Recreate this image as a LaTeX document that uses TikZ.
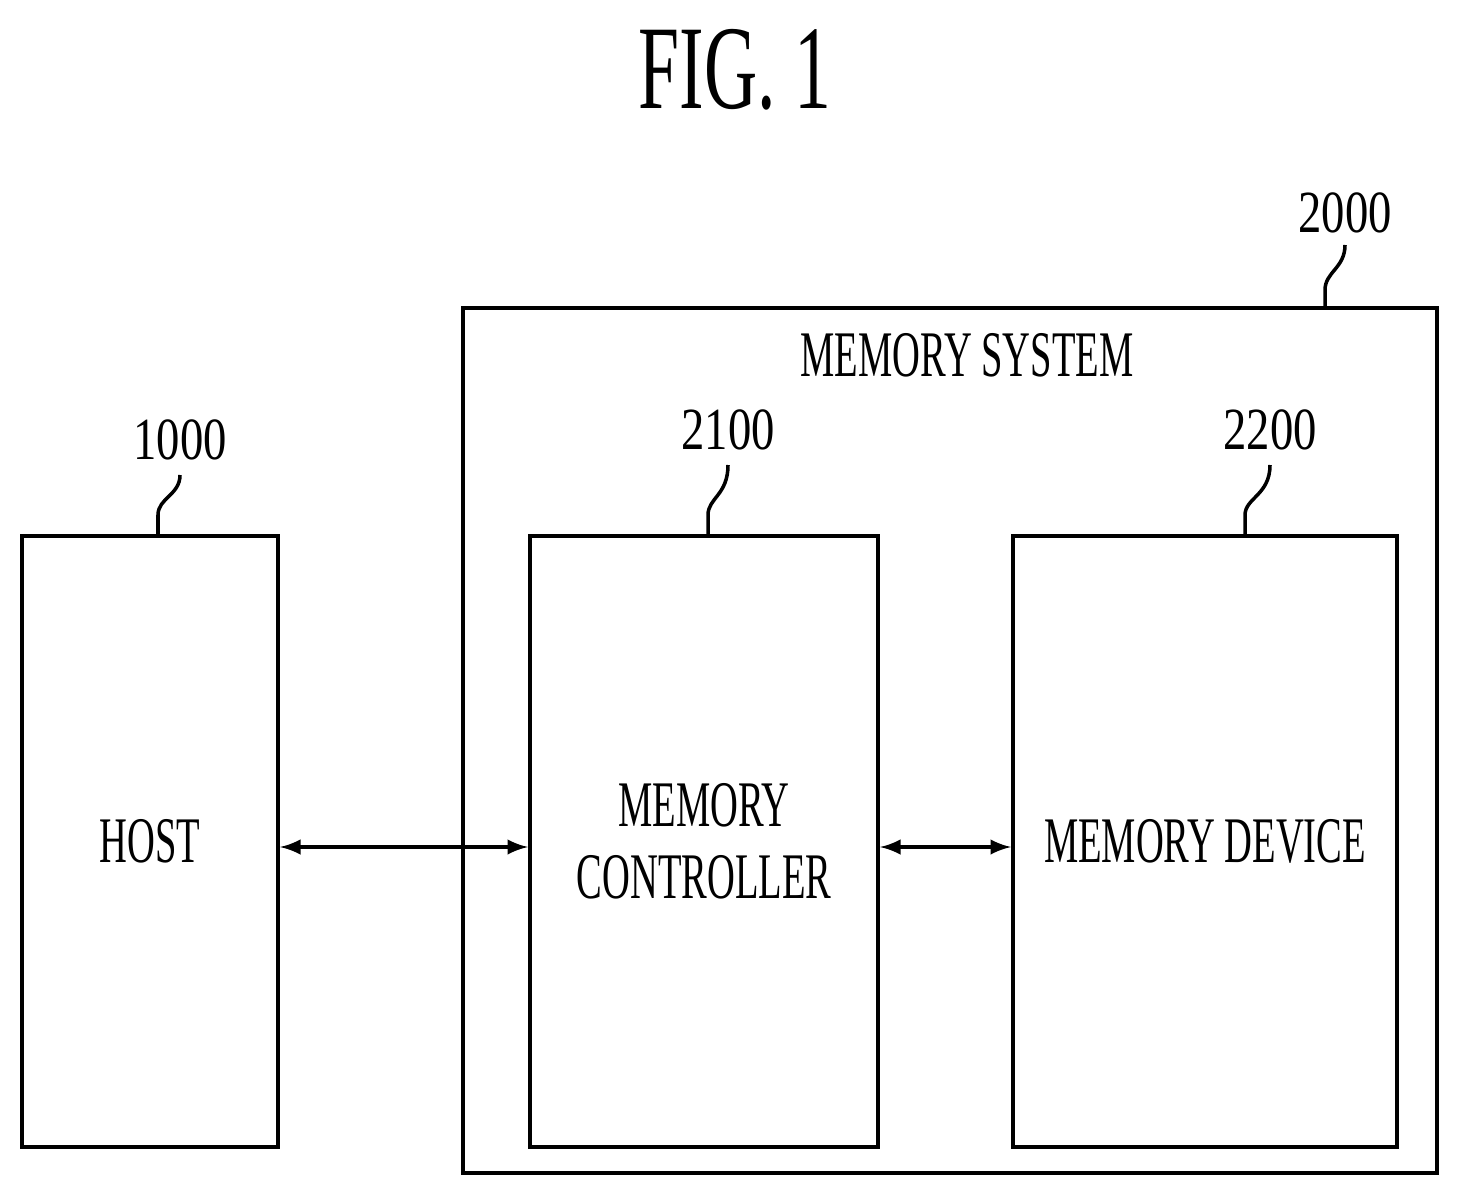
\documentclass[tikz,border=0pt]{standalone}
\usepackage{fontspec}
\setmainfont{Liberation Serif}
\newfontfamily\narrowfont[FakeStretch=0.74]{Liberation Serif}
\newfontfamily\figfont[FakeStretch=0.78]{Liberation Serif}
\begin{document}
\begin{tikzpicture}[x=0.01cm,y=-0.01cm,
  box/.style={draw,line width=1.2pt,inner sep=0},
  txt/.style={font=\narrowfont\fontsize{18.5}{20.5}\selectfont,align=center,xscale=0.8,transform shape},
  lbl/.style={font=\fontsize{17}{19}\selectfont,xscale=0.78,transform shape},
  lead/.style={line width=1pt},
  arr/.style={line width=1pt,<->,>=latex}]
\useasboundingbox (0,0) rectangle (1458,1197);
\node[font=\figfont\fontsize{34}{38}\selectfont,xscale=0.79,transform shape] (fig) at (735,70) {FIG. 1};
\node[box,minimum width=974*0.01cm,minimum height=865*0.01cm] (sys) at (950,740.5) {};
\node[txt] (systxt) at (967,355) {MEMORY SYSTEM};
\node[box,minimum width=256*0.01cm,minimum height=611*0.01cm] (host) at (150,841.5) {};
\node[txt] at (host) {HOST};
\node[box,minimum width=348*0.01cm,minimum height=611*0.01cm] (ctrl) at (704,841.5) {};
\node[txt] at (ctrl) {MEMORY\\CONTROLLER};
\node[box,minimum width=384*0.01cm,minimum height=611*0.01cm] (dev) at (1205,841.5) {};
\node[txt] at (dev) {MEMORY DEVICE};
\node[lbl] (l1000) at (180,440) {1000};
\node[lbl] (l2100) at (728,430) {2100};
\node[lbl] (l2200) at (1270,430) {2200};
\node[lbl] (l2000) at (1345,213) {2000};
\coordinate (h1) at (158,536); \coordinate (c1) at (708,536);
\coordinate (d1) at (1245,536); \coordinate (s1) at (1325,308);
\draw[lead] (h1) -- (158,515) .. controls (158,498) and (180,495) .. (180,475);
\draw[lead] (c1) -- (708,515) .. controls (708,498) and (728,495) .. (728,465);
\draw[lead] (d1) -- (1245,515) .. controls (1245,498) and (1270,495) .. (1270,465);
\draw[lead] (s1) -- (1325,290) .. controls (1325,272) and (1345,268) .. (1345,245);
\draw[arr] (host.east |- 0,847) -- (ctrl.west |- 0,847);
\draw[arr] (ctrl.east |- 0,847) -- (dev.west |- 0,847);
\end{tikzpicture}
\end{document}
